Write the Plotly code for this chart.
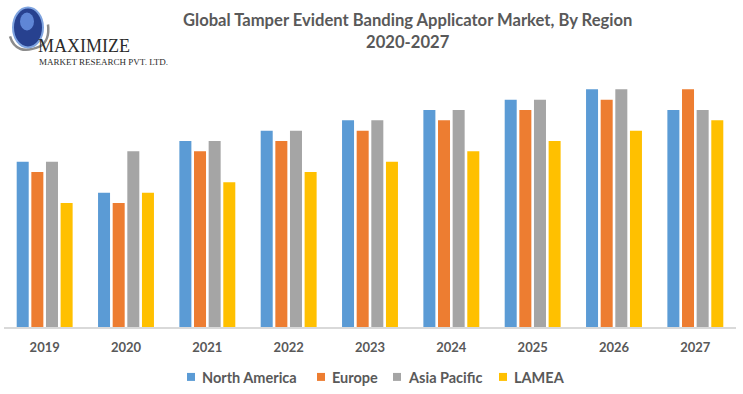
import plotly.graph_objects as go

years = ["2019", "2020", "2021", "2022", "2023", "2024", "2025", "2026", "2027"]
north_america = [16, 13, 18, 19, 20, 21, 22, 23, 21]
europe = [15, 12, 17, 18, 19, 20, 21, 22, 23]
asia_pacific = [16, 17, 18, 19, 20, 21, 22, 23, 21]
lamea = [12, 13, 14, 15, 16, 17, 18, 19, 20]

series_names = ["North America", "Europe", "Asia Pacific", "LAMEA"]
series_values = [north_america, europe, asia_pacific, lamea]
series_colors = ["#5B9BD5", "#ED7D31", "#A5A5A5", "#FFC000"]

W, H = 743, 394
ml, mr, mt, mb = 4, 7, 78.6, 67

fig = go.Figure()
for name, vals, color in zip(series_names, series_values, series_colors):
    fig.add_trace(go.Bar(x=years, y=vals, name=name, marker_color=color,
                         marker_line_width=0, showlegend=False))

font_family = "Lato, Open Sans, sans-serif"
text_color = "#595959"
fig.update_layout(
    width=W, height=H,
    margin=dict(l=ml, r=mr, t=mt, b=mb, autoexpand=False),
    paper_bgcolor="white", plot_bgcolor="white",
    barmode="group", bargap=0.28, bargroupgap=0.18,
    showlegend=False,
    xaxis=dict(showline=True, linecolor="#D9D9D9", linewidth=1.5, ticks="",
               ticklabelstandoff=8,
               tickfont=dict(family=font_family, size=13, color=text_color, weight="bold"),
               showgrid=False, zeroline=False, fixedrange=True),
    yaxis=dict(range=[0, 24], visible=False, showgrid=False, zeroline=False, fixedrange=True),
)

ph = H - mt - mb
pw = W - ml - mr
def px(x):
    return (x - ml) / pw
def py(y):
    return (H - mb - y) / ph

# Title
fig.add_annotation(text="Global Tamper Evident Banding Applicator Market, By Region<br>2020-2027",
                   xref="paper", yref="paper", x=px(407), y=py(31), xanchor="center", yanchor="middle",
                   showarrow=False, align="center",
                   font=dict(family=font_family, size=16.6, color=text_color, weight="bold"))

# Legend (square swatches + labels)
legend_sq_x = [187, 317, 393, 499]
for name, color, sx in zip(series_names, series_colors, legend_sq_x):
    fig.add_shape(type="rect", xref="paper", yref="paper",
                  x0=px(sx), x1=px(sx + 8), y0=py(381), y1=py(373),
                  fillcolor=color, line=dict(width=0))
    fig.add_annotation(text=name, xref="paper", yref="paper", x=px(sx + 13), y=py(377.5),
                       xanchor="left", yanchor="middle", showarrow=False,
                       font=dict(family=font_family, size=14.5, color=text_color, weight="bold"))

# Logo (text-based)
fig.add_shape(type="path", xref="paper", yref="paper",
              path=f"M {px(10)},{py(36)} Q {px(16)},{py(56)} {px(40)},{py(46)} Q {px(50)},{py(40)} {px(48)},{py(24)}",
              line=dict(color="#8C8C8C", width=2.5))
fig.add_shape(type="circle", xref="paper", yref="paper",
              x0=px(13), x1=px(43), y0=py(47), y1=py(7),
              fillcolor="#27418F", line=dict(color="#7FA4E0", width=2))
fig.add_shape(type="circle", xref="paper", yref="paper",
              x0=px(20), x1=px(34), y0=py(30), y1=py(12),
              fillcolor="#5F86D6", line=dict(width=0))
fig.add_annotation(text="MAXIMIZE", xref="paper", yref="paper", x=px(36), y=py(46),
                   xanchor="left", yanchor="middle", showarrow=False,
                   font=dict(family="Liberation Serif, DejaVu Serif, serif", size=18, color="#2B2B2B"))
fig.add_annotation(text="MARKET RESEARCH PVT. LTD.", xref="paper", yref="paper", x=px(37), y=py(62),
                   xanchor="left", yanchor="middle", showarrow=False,
                   font=dict(family="Liberation Serif, DejaVu Serif, serif", size=9, color="#2B2B2B"))

fig.write_html("out.html", config={"displayModeBar": False},
               post_script="document.body.style.margin='0';document.body.style.overflow='hidden';")
